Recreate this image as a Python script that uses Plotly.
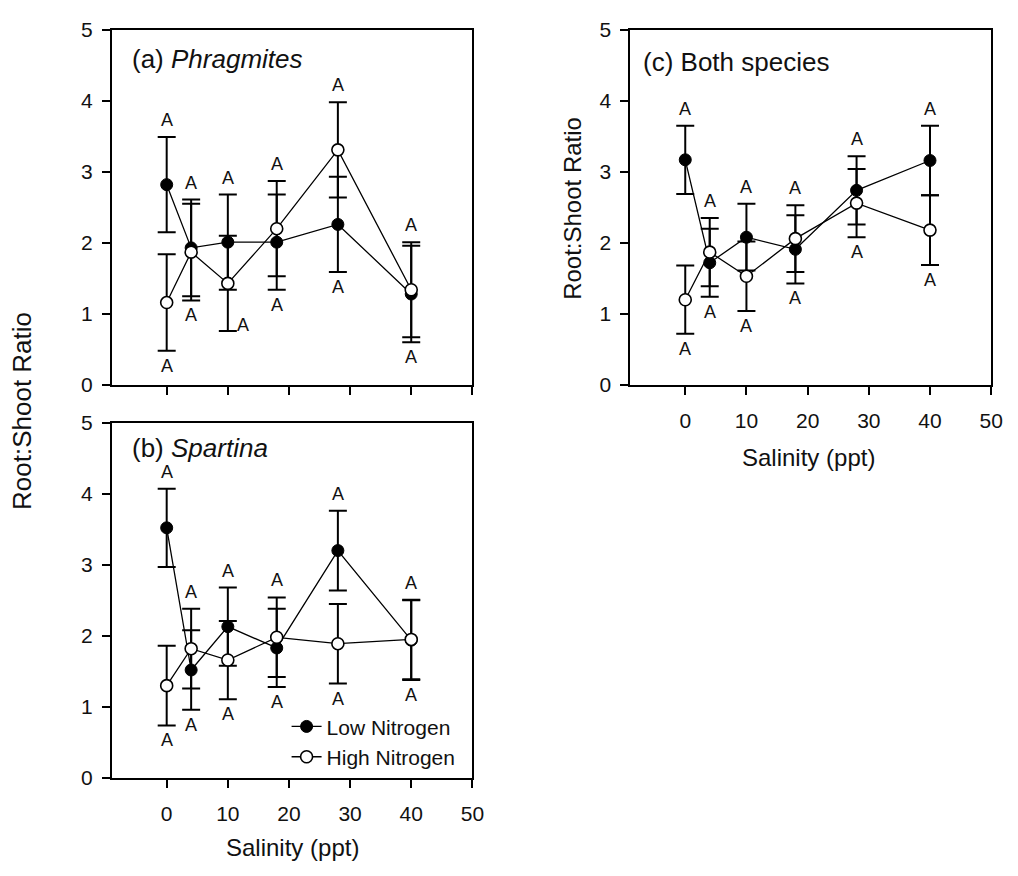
import plotly.graph_objects as go

W, H = 1018, 876

# Salinity treatments (ppt)
salinity = [0, 4, 10, 18, 28, 40]

# (a) Phragmites: mean root:shoot ratio and error
phrag_low = [2.82, 1.93, 2.01, 2.01, 2.26, 1.28]
phrag_low_err = [0.67, 0.68, 0.67, 0.67, 0.67, 0.68]
phrag_high = [1.16, 1.87, 1.43, 2.20, 3.31, 1.34]
phrag_high_err = [0.68, 0.68, 0.67, 0.67, 0.67, 0.67]

# (b) Spartina
spart_low = [3.52, 1.52, 2.13, 1.83, 3.20, 1.94]
spart_low_err = [0.55, 0.56, 0.55, 0.55, 0.56, 0.56]
spart_high = [1.30, 1.82, 1.66, 1.98, 1.89, 1.95]
spart_high_err = [0.56, 0.56, 0.55, 0.56, 0.56, 0.56]

# (c) Both species
both_low = [3.17, 1.72, 2.08, 1.91, 2.74, 3.16]
both_low_err = [0.48, 0.48, 0.47, 0.48, 0.48, 0.49]
both_high = [1.20, 1.87, 1.53, 2.06, 2.56, 2.18]
both_high_err = [0.48, 0.48, 0.49, 0.47, 0.48, 0.49]

# Significance letters above / below each salinity level
letters_top = ["A", "A", "A", "A", "A", "A"]
letters_bottom = ["A", "A", "A", "A", "A", "A"]

x_ticks = [0, 10, 20, 30, 40, 50]
y_ticks = [0, 1, 2, 3, 4, 5]

FONT = "Liberation Sans, Arial, sans-serif"
INK = "#111111"


def fx(p):
    return p / W


def fy(p):
    return 1 - p / H


panels = [
    dict(key="a", xa="x", ya="y", xd=(113, 478), yd=(18.3, 383),
         low=phrag_low, low_e=phrag_low_err, high=phrag_high, high_e=phrag_high_err,
         title="(a) <i>Phragmites</i>", title_pos=(132, 48), xlabels=False, legend=False),
    dict(key="b", xa="x2", ya="y2", xd=(113, 478), yd=(421.7, 786.7),
         low=spart_low, low_e=spart_low_err, high=spart_high, high_e=spart_high_err,
         title="(b) <i>Spartina</i>", title_pos=(132, 448), xlabels=True, legend=True),
    dict(key="c", xa="x3", ya="y3", xd=(637.7, 1003), yd=(18.3, 383),
         low=both_low, low_e=both_low_err, high=both_high, high_e=both_high_err,
         title="(c) Both species", title_pos=(649, 51), xlabels=True, legend=False),
]

# individual label nudges (pixels) where a letter sits beside its bar
label_nudge = {("a", 2, "bottom"): (15, 21)}

fig = go.Figure()
annotations = []

for p in panels:
    err_common = dict(type="data", color="black", thickness=2, width=9)
    fig.add_trace(go.Scatter(
        x=salinity, y=p["low"], xaxis=p["xa"], yaxis=p["ya"],
        mode="lines+markers", name="Low Nitrogen", showlegend=p["legend"],
        line=dict(color="black", width=1.3),
        marker=dict(symbol="circle", size=12, color="black",
                    line=dict(color="black", width=1)),
        error_y=dict(array=p["low_e"], **err_common),
    ))
    fig.add_trace(go.Scatter(
        x=salinity, y=p["high"], xaxis=p["xa"], yaxis=p["ya"],
        mode="lines+markers", name="High Nitrogen", showlegend=p["legend"],
        line=dict(color="black", width=1.3),
        marker=dict(symbol="circle", size=12, color="white",
                    line=dict(color="black", width=1.6)),
        error_y=dict(array=p["high_e"], **err_common),
    ))

    # letters derived from the extent of the error bars
    for i, s in enumerate(salinity):
        top = max(p["low"][i] + p["low_e"][i], p["high"][i] + p["high_e"][i])
        bot = min(p["low"][i] - p["low_e"][i], p["high"][i] - p["high_e"][i])
        for which, yv, shift, txt in (("top", top, 17, letters_top[i]),
                                      ("bottom", bot, -15, letters_bottom[i])):
            dx, dy = label_nudge.get((p["key"], i, which), (0, 0))
            annotations.append(dict(
                x=s, y=yv, xref=p["xa"], yref=p["ya"], text=txt, showarrow=False,
                xanchor="center", yanchor="middle", xshift=dx, yshift=shift + dy,
                font=dict(family=FONT, size=18, color=INK),
            ))

    tx, ty = p["title_pos"]
    annotations.append(dict(
        x=fx(tx), y=fy(ty), xref="paper", yref="paper", text=p["title"],
        showarrow=False, xanchor="left", yanchor="middle",
        font=dict(family=FONT, size=26, color=INK),
    ))

axis_common = dict(
    showline=True, linecolor="black", linewidth=1.6, mirror=True,
    ticks="outside", ticklen=8, tickwidth=1.6, tickcolor="black",
    showgrid=False, zeroline=False,
    tickfont=dict(family=FONT, size=21, color=INK),
)

layout_axes = {}
for p in panels:
    xname = "xaxis" + p["xa"][1:]
    yname = "yaxis" + p["ya"][1:]
    layout_axes[xname] = dict(
        domain=[fx(p["xd"][0]), fx(p["xd"][1])], anchor=p["ya"],
        range=[-9, 50], tickvals=x_ticks, showticklabels=p["xlabels"],
        ticklabelstandoff=8, **axis_common)
    layout_axes[yname] = dict(
        domain=[fy(p["yd"][1]), fy(p["yd"][0])], anchor=p["xa"],
        range=[0, 5], tickvals=y_ticks, ticklabelstandoff=5, **axis_common)

# axis titles
annotations += [
    dict(x=fx(23), y=fy(410), xref="paper", yref="paper", text="Root:Shoot Ratio",
         textangle=-90, showarrow=False, xanchor="center", yanchor="middle",
         font=dict(family=FONT, size=26, color=INK)),
    dict(x=fx(580), y=fy(202), xref="paper", yref="paper", text="Root:Shoot Ratio",
         textangle=-90, showarrow=False, xanchor="center", yanchor="middle",
         font=dict(family=FONT, size=24, color=INK)),
    dict(x=fx(296), y=fy(858), xref="paper", yref="paper", text="Salinity (ppt)",
         showarrow=False, xanchor="center", yanchor="middle",
         font=dict(family=FONT, size=24, color=INK)),
    dict(x=fx(818), y=fy(458), xref="paper", yref="paper", text="Salinity (ppt)",
         showarrow=False, xanchor="center", yanchor="middle",
         font=dict(family=FONT, size=24, color=INK)),
]

fig.update_layout(
    width=W, height=H,
    margin=dict(l=0, r=0, t=0, b=0),
    paper_bgcolor="white", plot_bgcolor="white",
    annotations=annotations,
    legend=dict(x=fx(290), y=fy(713), xanchor="left", yanchor="top",
                bgcolor="rgba(0,0,0,0)", borderwidth=0, tracegroupgap=0,
                font=dict(family=FONT, size=21, color=INK)),
    **layout_axes,
)

fig.write_html("out.html")
